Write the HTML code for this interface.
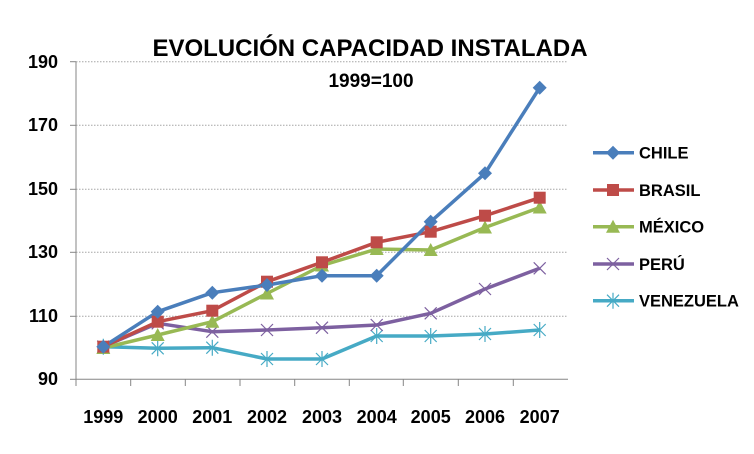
<!DOCTYPE html>
<html><head><meta charset="utf-8"><style>
body{margin:0;background:#fff}
svg{display:block;font-family:"Liberation Sans",Arial,sans-serif}
</style></head><body>
<svg width="754" height="454" viewBox="0 0 754 454">
<defs>
<g id="dia"><polygon points="0,-7 7,0 0,7 -7,0" fill="#4a7ebb"/></g>
<g id="sq"><rect x="-6" y="-6" width="12" height="12" fill="#be4b48"/></g>
<g id="tri"><polygon points="0,-7 7,6 -7,6" fill="#98b954"/></g>
<g id="x"><path d="M-6,-6L6,6M6,-6L-6,6" stroke="#7d60a0" stroke-width="1.2"/></g>
<g id="ast"><path d="M-6,-6L6,6M6,-6L-6,6M0,-8V8" stroke="#46aac5" stroke-width="1.2"/></g>
</defs>
<g stroke="#a6a6a6" stroke-width="1" stroke-dasharray="1.5,1.5">
<line x1="76" y1="61.7" x2="568" y2="61.7"/>
<line x1="76" y1="125.3" x2="568" y2="125.3"/>
<line x1="76" y1="189.3" x2="568" y2="189.3"/>
<line x1="76" y1="252.3" x2="568" y2="252.3"/>
<line x1="76" y1="316.3" x2="568" y2="316.3"/>
</g>
<g stroke="#868686" stroke-width="1">
<line x1="76" y1="61.7" x2="76" y2="379.3"/>
<line x1="76" y1="379.3" x2="568" y2="379.3"/>
<line x1="70" y1="61.7" x2="76" y2="61.7"/><line x1="70" y1="125.3" x2="76" y2="125.3"/>
<line x1="70" y1="189.3" x2="76" y2="189.3"/><line x1="70" y1="252.3" x2="76" y2="252.3"/>
<line x1="70" y1="316.3" x2="76" y2="316.3"/><line x1="70" y1="379.3" x2="76" y2="379.3"/>
<line x1="130.7" y1="379" x2="130.7" y2="386"/><line x1="185.3" y1="379" x2="185.3" y2="386"/>
<line x1="240" y1="379" x2="240" y2="386"/><line x1="294.7" y1="379" x2="294.7" y2="386"/>
<line x1="349.3" y1="379" x2="349.3" y2="386"/><line x1="403.3" y1="379" x2="403.3" y2="386"/>
<line x1="458.3" y1="379" x2="458.3" y2="386"/><line x1="513.3" y1="379" x2="513.3" y2="386"/>
<line x1="76" y1="379" x2="76" y2="386"/>
</g>
<g font-size="18" font-weight="bold" fill="#000" text-anchor="end">
<text x="58" y="68">190</text><text x="58" y="131">170</text><text x="58" y="195">150</text>
<text x="58" y="258">130</text><text x="58" y="322">110</text><text x="58" y="385">90</text>
</g>
<g font-size="18" font-weight="bold" fill="#000" text-anchor="middle">
<text x="103.3" y="423">1999</text><text x="157.7" y="423">2000</text><text x="212.3" y="423">2001</text>
<text x="267" y="423">2002</text><text x="322" y="423">2003</text><text x="376.7" y="423">2004</text>
<text x="430.7" y="423">2005</text><text x="485" y="423">2006</text><text x="539.7" y="423">2007</text>
</g>
<text x="370" y="56" font-size="24" font-weight="bold" text-anchor="middle">EVOLUCIÓN CAPACIDAD INSTALADA</text>
<text x="371" y="87" font-size="19" font-weight="bold" text-anchor="middle">1999=100</text>
<g fill="none" stroke-width="3.5" stroke-linejoin="round">
<polyline stroke="#46aac5" points="103.3,346.7 157.7,348.3 212.3,347.7 267,359 322,359 376.7,336 430.7,336 485,334 539.7,330"/>
<polyline stroke="#7d60a0" points="103.3,346.7 157.7,323.3 212.3,331.7 267,330 322,327.7 376.7,325 430.7,313.3 485,289 539.7,268.3"/>
<polyline stroke="#98b954" points="103.3,348 157.7,335 212.3,321.7 267,293.5 322,265.5 376.7,249 430.7,250 485,227.5 539.7,207.5"/>
<polyline stroke="#be4b48" points="103.3,346.7 157.7,321.7 212.3,310.7 267,281.7 322,262.3 376.7,242.3 430.7,231.7 485,215.7 539.7,197.7"/>
<polyline stroke="#4a7ebb" points="103.3,346.7 157.7,311.7 212.3,292.7 267,285 322,275.7 376.7,275.7 430.7,221.7 485,173.3 539.7,87.7"/>
</g>
<g>
<use href="#ast" x="103.3" y="346.7"/><use href="#ast" x="157.7" y="348.3"/><use href="#ast" x="212.3" y="347.7"/><use href="#ast" x="267" y="359"/><use href="#ast" x="322" y="359"/><use href="#ast" x="376.7" y="336"/><use href="#ast" x="430.7" y="336"/><use href="#ast" x="485" y="334"/><use href="#ast" x="539.7" y="330"/>
<use href="#x" x="103.3" y="346.7"/><use href="#x" x="157.7" y="323.3"/><use href="#x" x="212.3" y="331.7"/><use href="#x" x="267" y="330"/><use href="#x" x="322" y="327.7"/><use href="#x" x="376.7" y="325"/><use href="#x" x="430.7" y="313.3"/><use href="#x" x="485" y="289"/><use href="#x" x="539.7" y="268.3"/>
<use href="#tri" x="103.3" y="348"/><use href="#tri" x="157.7" y="335"/><use href="#tri" x="212.3" y="321.7"/><use href="#tri" x="267" y="293.5"/><use href="#tri" x="322" y="265.5"/><use href="#tri" x="376.7" y="249"/><use href="#tri" x="430.7" y="250"/><use href="#tri" x="485" y="227.5"/><use href="#tri" x="539.7" y="207.5"/>
<use href="#sq" x="103.3" y="346.7"/><use href="#sq" x="157.7" y="321.7"/><use href="#sq" x="212.3" y="310.7"/><use href="#sq" x="267" y="281.7"/><use href="#sq" x="322" y="262.3"/><use href="#sq" x="376.7" y="242.3"/><use href="#sq" x="430.7" y="231.7"/><use href="#sq" x="485" y="215.7"/><use href="#sq" x="539.7" y="197.7"/>
<use href="#dia" x="103.3" y="346.7"/><use href="#dia" x="157.7" y="311.7"/><use href="#dia" x="212.3" y="292.7"/><use href="#dia" x="267" y="285"/><use href="#dia" x="322" y="275.7"/><use href="#dia" x="376.7" y="275.7"/><use href="#dia" x="430.7" y="221.7"/><use href="#dia" x="485" y="173.3"/><use href="#dia" x="539.7" y="87.7"/>
</g>
<g stroke-width="3.5">
<line x1="593" y1="152.7" x2="634" y2="152.7" stroke="#4a7ebb"/><use href="#dia" x="613" y="152.7"/>
<line x1="593" y1="190" x2="634" y2="190" stroke="#be4b48"/><use href="#sq" x="613" y="190"/>
<line x1="593" y1="226.7" x2="634" y2="226.7" stroke="#98b954"/><use href="#tri" x="613" y="226.7"/>
<line x1="593" y1="264" x2="634" y2="264" stroke="#7d60a0"/><use href="#x" x="613" y="264"/>
<line x1="593" y1="300.7" x2="634" y2="300.7" stroke="#46aac5"/><use href="#ast" x="613" y="300.7"/>
</g>
<g font-size="16.5" font-weight="bold" fill="#000">
<text x="639" y="158.5">CHILE</text><text x="639" y="196">BRASIL</text><text x="639" y="232.5">MÉXICO</text>
<text x="639" y="270">PERÚ</text><text x="639" y="306.5">VENEZUELA</text>
</g>
</svg>
</body></html>
